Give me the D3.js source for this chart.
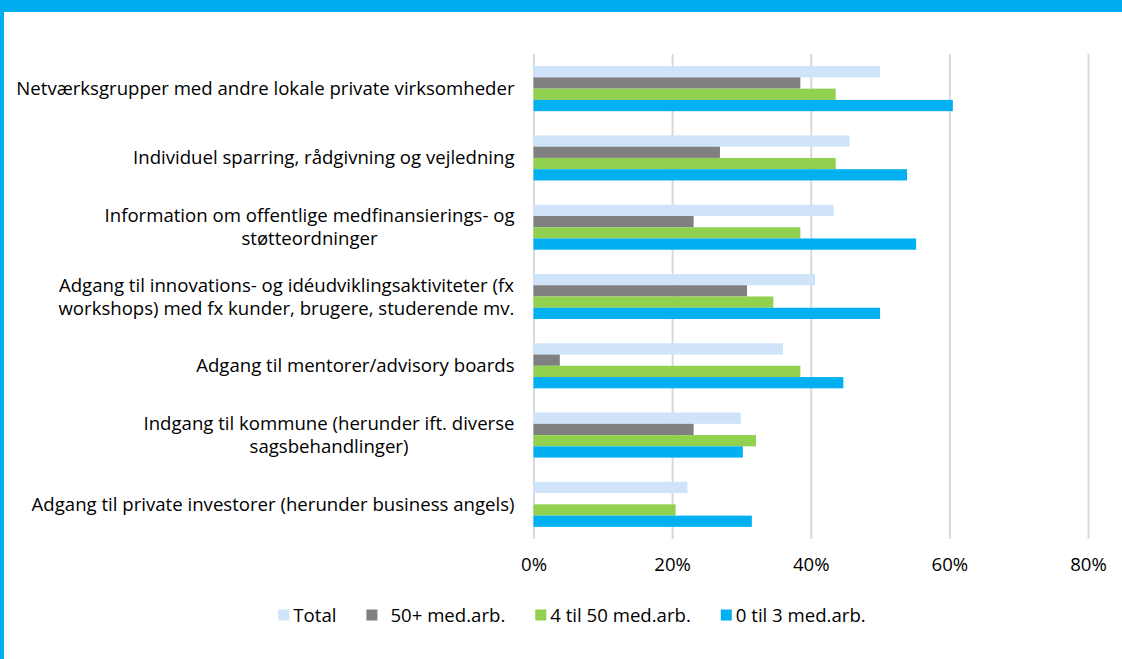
<!DOCTYPE html>
<html>
<head>
<meta charset="utf-8">
<script src="https://cdn.jsdelivr.net/npm/d3@7"></script>
<style>
  html, body { margin: 0; padding: 0; background: #fff; }
  svg { display: block; }
  text { font-family: "Open Sans", sans-serif; fill: #000; }
</style>
</head>
<body>
<svg id="chart" width="1122" height="659"></svg>
<script>
// ---- data ----
const categories = [
  ["Netværksgrupper med andre lokale private virksomheder"],
  ["Individuel sparring, rådgivning og vejledning"],
  ["Information om offentlige medfinansierings- og", "støtteordninger"],
  ["Adgang til innovations- og idéudviklingsaktiviteter (fx", "workshops) med fx kunder, brugere, studerende mv."],
  ["Adgang til mentorer/advisory boards"],
  ["Indgang til kommune (herunder ift. diverse", "sagsbehandlinger)"],
  ["Adgang til private investorer (herunder business angels)"]
];
const seriesNames = ["Total", "50+ med.arb.", "4 til 50 med.arb.", "0 til 3 med.arb."];
const totalValues  = [0.500, 0.456, 0.433, 0.406, 0.360, 0.299, 0.222];
const plus50Values = [0.385, 0.269, 0.231, 0.308, 0.038, 0.231, 0.000];
const mid4to50Values = [0.436, 0.436, 0.385, 0.346, 0.385, 0.321, 0.205];
const small0to3Values = [0.605, 0.539, 0.552, 0.500, 0.447, 0.302, 0.315];
const tickValues = [0, 0.2, 0.4, 0.6, 0.8];
const colors = ["#CFE4F8", "#808080", "#92D050", "#00B0F0"];

const seriesValues = [totalValues, plus50Values, mid4to50Values, small0to3Values];

// ---- layout ----
const W = 1122, H = 659;
const plot = { left: 533.5, right: 1088, top: 54, bottom: 539 };
const fontSize = 18.6;

const svg = d3.select("#chart");

// frame (blue band at top and left edge)
svg.append("rect").attr("x", 0).attr("y", 0).attr("width", W).attr("height", 12).attr("fill", "#00AEEF");
svg.append("rect").attr("x", 0).attr("y", 0).attr("width", 4).attr("height", H).attr("fill", "#00AEEF");

const x = d3.scaleLinear().domain([0, 0.8]).range([plot.left, plot.right]);
const y = d3.scaleBand().domain(d3.range(categories.length))
  .range([plot.top, plot.bottom]).paddingInner(0.35).paddingOuter(0.175);
const ySub = d3.scaleBand().domain(d3.range(seriesNames.length)).range([0, y.bandwidth()]).padding(0);

// gridlines
const grid = svg.append("g").attr("transform", `translate(0,${plot.bottom})`)
  .call(d3.axisBottom(x).tickValues(tickValues).tickSize(-(plot.bottom - plot.top)).tickFormat(""));
grid.select(".domain").remove();
grid.selectAll(".tick line").attr("stroke", "#D9D9D9").attr("stroke-width", 2);

// bars
const groups = svg.append("g").selectAll("g").data(categories).join("g")
  .attr("transform", (d, i) => `translate(0,${y(i)})`);
groups.selectAll("rect").data((d, i) => seriesValues.map((vals, s) => ({ s, v: vals[i] })))
  .join("rect")
  .attr("x", x(0))
  .attr("y", d => ySub(d.s))
  .attr("width", d => x(d.v) - x(0))
  .attr("height", ySub.bandwidth())
  .attr("fill", d => colors[d.s]);

// x axis labels
const xAxis = svg.append("g").attr("transform", `translate(0,${plot.bottom})`)
  .call(d3.axisBottom(x).tickValues(tickValues).tickSize(0).tickPadding(18.5).tickFormat(d3.format(".0%")));
xAxis.select(".domain").remove();
xAxis.selectAll("text").style("font-family", '"Open Sans", sans-serif').style("font-size", fontSize + "px").attr("fill", "#000");

// category labels
const labelRight = 514.5;
const lineH = 23;
const labels = svg.append("g");
categories.forEach((lines, i) => {
  const cy = y(i) + y.bandwidth() / 2;
  const t = labels.append("text").style("font-size", fontSize + "px");
  lines.forEach((ln, k) => {
    t.append("tspan").text(ln)
      .attr("y", cy + (k - (lines.length - 1) / 2) * lineH)
      .attr("dy", "0.35em");
  });
  let maxW = 0;
  t.selectAll("tspan").each(function () { maxW = Math.max(maxW, this.getComputedTextLength()); });
  t.selectAll("tspan").attr("x", labelRight - maxW / 2).attr("text-anchor", "middle");
});

// legend
const legendY = 615;
const sq = 11;
const leg = svg.append("g");
const items = [];
seriesNames.forEach((name, i) => {
  const g = leg.append("g");
  g.append("rect").attr("x", 0).attr("y", -sq / 2).attr("width", sq).attr("height", sq).attr("fill", colors[i]);
  const extra = i === 1 ? 9 : 0;
  const t = g.append("text").text(name).attr("x", sq + 4 + extra).attr("dy", "0.35em").style("font-size", fontSize + "px");
  const w = sq + 4 + extra + t.node().getComputedTextLength();
  items.push({ g, w });
});
const gap = 30;
const totalW = d3.sum(items, d => d.w) + gap * (items.length - 1);
let lx = 572 - totalW / 2;
items.forEach(it => {
  it.g.attr("transform", `translate(${lx},${legendY})`);
  lx += it.w + gap;
});
</script>
</body>
</html>
